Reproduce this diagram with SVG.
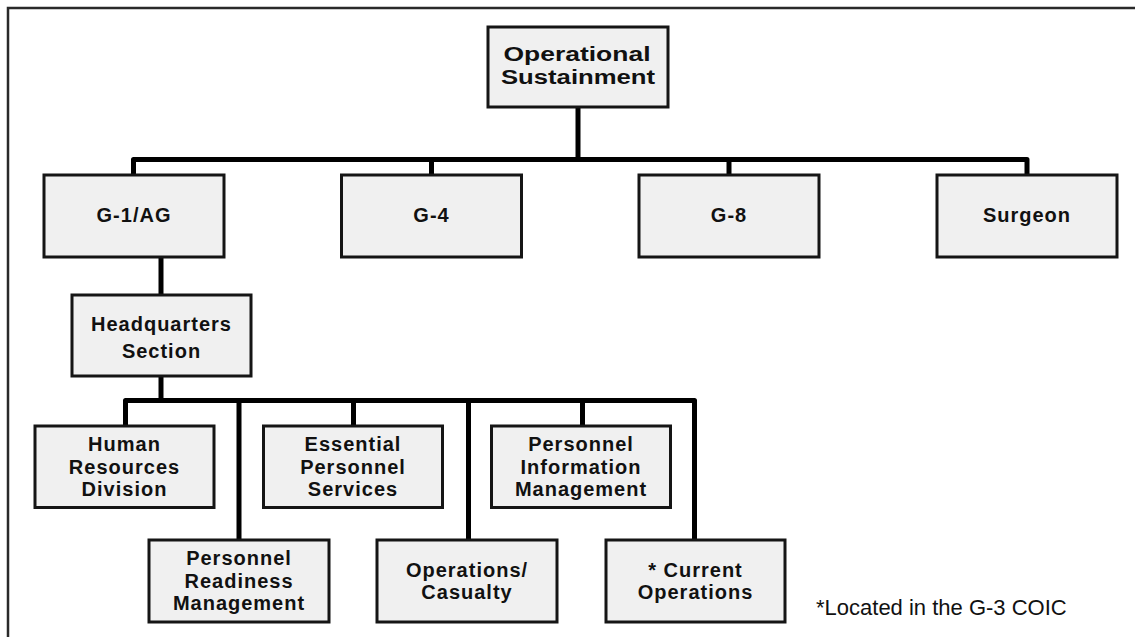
<svg xmlns="http://www.w3.org/2000/svg" width="1135" height="637" viewBox="0 0 1135 637">
<style>
.frame{fill:none;stroke:#2a2a2a;stroke-width:2.5}
.box{fill:#f0f0f0;stroke:#151515;stroke-width:3}
.lbl{font-family:"Liberation Sans",Arial,sans-serif;font-weight:bold;font-size:20px;letter-spacing:1px;fill:#111;text-anchor:middle}
.top{letter-spacing:0}
.note{font-family:"Liberation Sans",Arial,sans-serif;font-size:22px;fill:#111}
.wire{fill:none;stroke:#000;stroke-width:5;stroke-linejoin:round}
</style>
<rect width="1135" height="637" fill="#fff"/>
<rect class="frame" x="8" y="8" width="1140" height="650"/>
<g id="connectors">
<path class="wire" d="M578 107 V159.5"/>
<path class="wire" d="M133.5 175 V159.5 H1027 V175"/>
<path class="wire" d="M431.5 159.5 V175"/>
<path class="wire" d="M729 159.5 V175"/>
<path class="wire" d="M161 257 V295"/>
<path class="wire" d="M161 376 V400.5"/>
<path class="wire" d="M125.5 426 V400.5 H694.5 V540"/>
<path class="wire" d="M239 400.5 V540"/>
<path class="wire" d="M353.5 400.5 V426"/>
<path class="wire" d="M468.5 400.5 V540"/>
<path class="wire" d="M582.5 400.5 V426"/>
</g>
<g id="n-operational-sustainment">
<rect class="box" x="488" y="27" width="180" height="80"/>
<text class="lbl top" x="577" y="60.5" textLength="147" lengthAdjust="spacingAndGlyphs">Operational</text>
<text class="lbl top" x="578" y="84" textLength="154" lengthAdjust="spacingAndGlyphs">Sustainment</text>
</g>
<g id="n-g1">
<rect class="box" x="44" y="175" width="180" height="82"/>
<text class="lbl" x="134" y="222">G-1/AG</text>
</g>
<g id="n-g4">
<rect class="box" x="341.5" y="175" width="180" height="82"/>
<text class="lbl" x="431.5" y="222">G-4</text>
</g>
<g id="n-g8">
<rect class="box" x="639" y="175" width="180" height="82"/>
<text class="lbl" x="729" y="222">G-8</text>
</g>
<g id="n-surgeon">
<rect class="box" x="937" y="175" width="180" height="82"/>
<text class="lbl" x="1027" y="222">Surgeon</text>
</g>
<g id="n-hq">
<rect class="box" x="72" y="295" width="179" height="81"/>
<text class="lbl" x="161.5" y="330.5">Headquarters</text>
<text class="lbl" x="161.5" y="357.5">Section</text>
</g>
<g id="n-hr">
<rect class="box" x="35" y="426" width="179" height="81.5"/>
<text class="lbl" x="124.5" y="451">Human</text>
<text class="lbl" x="124.5" y="473.5">Resources</text>
<text class="lbl" x="124.5" y="496">Division</text>
</g>
<g id="n-eps">
<rect class="box" x="263.5" y="426" width="179" height="81.5"/>
<text class="lbl" x="353" y="451">Essential</text>
<text class="lbl" x="353" y="473.5">Personnel</text>
<text class="lbl" x="353" y="496">Services</text>
</g>
<g id="n-pim">
<rect class="box" x="491.5" y="426" width="179" height="81.5"/>
<text class="lbl" x="581" y="451">Personnel</text>
<text class="lbl" x="581" y="473.5">Information</text>
<text class="lbl" x="581" y="496">Management</text>
</g>
<g id="n-prm">
<rect class="box" x="149" y="540" width="180" height="82"/>
<text class="lbl" x="239" y="565">Personnel</text>
<text class="lbl" x="239" y="587.5">Readiness</text>
<text class="lbl" x="239" y="610">Management</text>
</g>
<g id="n-opscas">
<rect class="box" x="377" y="540" width="180" height="82"/>
<text class="lbl" x="467" y="576.5">Operations/</text>
<text class="lbl" x="467" y="599">Casualty</text>
</g>
<g id="n-curops">
<rect class="box" x="606" y="540" width="179" height="82"/>
<text class="lbl" x="695.5" y="576.5">* Current</text>
<text class="lbl" x="695.5" y="599">Operations</text>
</g>
<g id="footnote">
<text class="note" x="816" y="615">*Located in the G-3 COIC</text>
</g>
</svg>
